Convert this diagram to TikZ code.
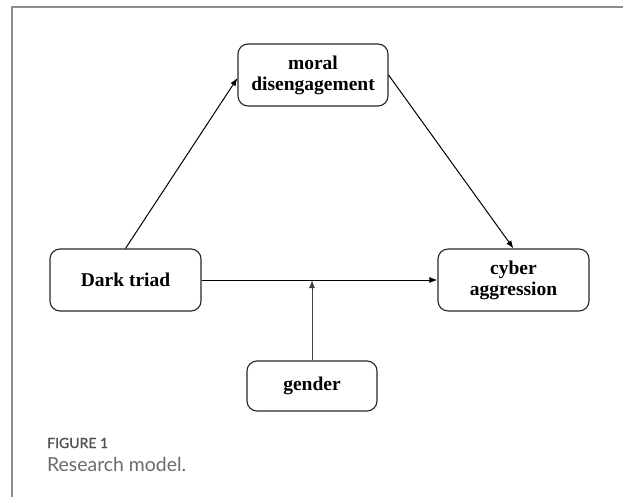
\documentclass[tikz,border=0pt]{standalone}
\usepackage{fontspec}
\setmainfont{Liberation Serif}
\newfontfamily\capfont{Lato}
\newfontfamily\capbold{Lato}[FakeBold=1.2]
\usepackage{tikz}
\usetikzlibrary{shapes,arrows.meta}

\begin{document}
\begin{tikzpicture}[x=1pt,y=-1pt]
    % Define block styles
    \tikzstyle{block} = [rectangle, rounded corners=10pt, minimum height=62pt, text centered, align=center, draw=black!85, line width=1.1pt, font=\bfseries\fontsize{19.5}{21}\selectfont]
    \tikzstyle{arrow} = [line width=1pt, ->, >={Latex[length=8pt,width=6pt]}]
    \tikzstyle{frame} = [black!45, line width=1.3pt]
    \tikzstyle{caption} = [anchor=base west, inner sep=0pt]

    \useasboundingbox (0,0) rectangle (623,497);

    % Draw frame
    \draw [frame] (623,7) -- (12,7) -- (12,497);

    % Draw nodes
    \node (moral) [block, minimum width=150pt] at (313,75) {moral\\disengagement};
    \node (dark) [block, minimum width=151pt] at (125.5,280) {Dark triad};
    \node (cyber) [block, minimum width=151pt] at (513.5,280) {cyber\\aggression};
    \node (gender) [block, minimum width=130pt, minimum height=50pt] at (312,386) {gender};
    \coordinate (join) at (gender.north |- dark.east);

    % Draw edges
    \draw [arrow] (dark.north) -- ([yshift=-3pt]moral.west);
    \draw [arrow] (moral.east) -- (cyber.north);
    \draw [arrow] (dark.east) -- (cyber.west);
    \draw [arrow, black!75] (gender.north) -- (join);

    % Caption
    \node (figno) [caption, text=black!68, font=\capbold\fontsize{14}{16}\selectfont] at (47,448) {FIGURE 1};
    \node (figtitle) [caption, text=black!58, font=\capfont\fontsize{19.4}{22}\selectfont] at (47,471) {Research model.};
\end{tikzpicture}
\end{document}
